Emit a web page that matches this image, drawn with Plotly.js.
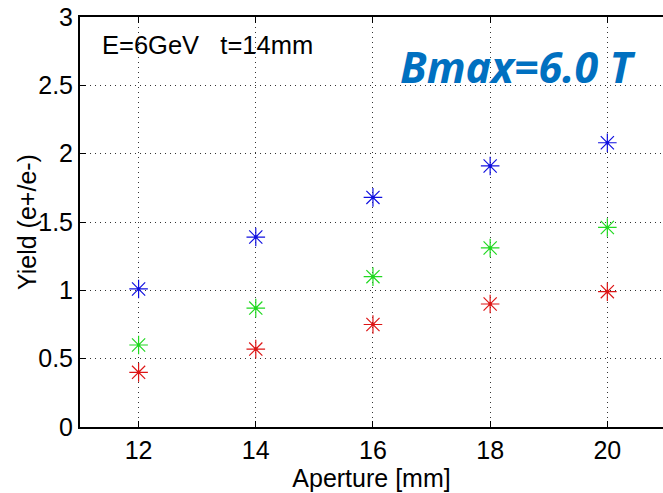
<!DOCTYPE html>
<html>
<head>
<meta charset="utf-8">
<script src="https://cdn.plot.ly/plotly-3.0.1.min.js"></script>
<style>html,body{margin:0;padding:0;background:#fff;}#chart{width:663px;height:493px;}</style>
</head>
<body>
<div id="chart"></div>
<script>
// Data
var aperture = [12, 14, 16, 18, 20];
var yieldBlue = [1.01, 1.39, 1.68, 1.91, 2.08];
var yieldGreen = [0.60, 0.87, 1.10, 1.31, 1.46];
var yieldRed = [0.40, 0.57, 0.75, 0.90, 0.99];
var xTicks = [12, 14, 16, 18, 20];
var yTicks = [0, 0.5, 1, 1.5, 2, 2.5, 3];
var yTickText = ['0', '0.5', '1', '1.5', '2', '2.5', '3'];

var series = [
  {y: yieldBlue, color: '#1010e0'},
  {y: yieldGreen, color: '#20d820'},
  {y: yieldRed, color: '#dd1515'}
];

var traces = [];
series.forEach(function (s) {
  traces.push({
    x: aperture, y: s.y, type: 'scatter', mode: 'markers', showlegend: false,
    marker: {symbol: 'asterisk-open', size: 15.5, color: s.color, line: {color: s.color, width: 1.2}},
    hoverinfo: 'skip'
  });
  traces.push({
    x: aperture, y: s.y, type: 'scatter', mode: 'markers', showlegend: false,
    marker: {symbol: 'circle', size: 3.5, color: s.color, line: {width: 0}},
    hoverinfo: 'skip'
  });
});

var fontMain = 'Liberation Sans, Arial, sans-serif';

var layout = {
  width: 663, height: 493,
  margin: {l: 80, r: 0, t: 17, b: 66, pad: 0},
  paper_bgcolor: '#ffffff', plot_bgcolor: '#ffffff',
  showlegend: false,
  font: {family: fontMain, color: '#000', size: 25},
  xaxis: {
    range: [11, 20.95], tickvals: xTicks, ticktext: xTicks.map(String),
    ticks: 'inside', ticklen: 6, tickwidth: 1, tickcolor: '#000',
    showline: true, linecolor: '#000', linewidth: 2, mirror: 'ticks',
    showgrid: true, gridcolor: '#333', gridwidth: 1, griddash: '1px,4px',
    zeroline: false, tickfont: {family: fontMain, size: 25, color: '#000'},
    title: {text: 'Aperture [mm]', font: {family: fontMain, size: 25, color: '#000'}, standoff: 4}
  },
  yaxis: {
    range: [0, 3], tickvals: yTicks, ticktext: yTickText,
    ticks: 'inside', ticklen: 6, tickwidth: 1, tickcolor: '#000',
    showline: true, linecolor: '#000', linewidth: 2, mirror: false,
    showgrid: true, gridcolor: '#333', gridwidth: 1, griddash: '1px,4px',
    zeroline: false, tickfont: {family: fontMain, size: 25, color: '#000'}
  },
  annotations: [
    {xref: 'paper', yref: 'paper', x: -0.0909, y: 0.5, xanchor: 'center', yanchor: 'middle',
     textangle: -90, text: 'Yield (e+/e-)', showarrow: false,
     font: {family: fontMain, size: 25, color: '#000'}},
    {xref: 'paper', yref: 'paper', x: 0.0343, y: 0.9318, xanchor: 'left', yanchor: 'middle',
     text: 'E=6GeV\u00A0\u00A0\u00A0t=14mm', showarrow: false,
     font: {family: fontMain, size: 25.5, color: '#000'}},
    {xref: 'paper', yref: 'paper', x: 0.5455, y: 0.8790, xanchor: 'left', yanchor: 'middle',
     text: '<b><i>Bmax=6.0 T</i></b>', showarrow: false,
     font: {family: 'Noto Sans, Open Sans, sans-serif', size: 43, color: '#0070c0'}}
  ]
};

Plotly.newPlot('chart', traces, layout, {staticPlot: true, displayModeBar: false});
</script>
</body>
</html>
